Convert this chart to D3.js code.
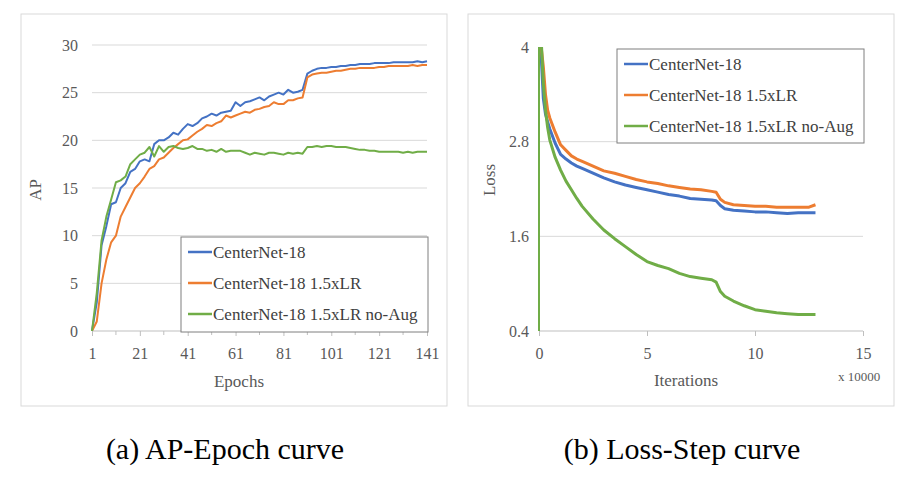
<!DOCTYPE html>
<html><head><meta charset="utf-8">
<script src="https://cdn.jsdelivr.net/npm/d3@7"></script>
<style>body{margin:0;background:#fff}svg text{font-family:'Liberation Serif','Tinos','DejaVu Serif',serif !important}</style>
</head><body><svg id="c" width="916" height="488" font-family="Liberation Serif, DejaVu Serif, serif"></svg>
<script>
const seriesNames=["CenterNet-18","CenterNet-18 1.5xLR","CenterNet-18 1.5xLR no-Aug"];
const colors=["#4472C4","#ED7D31","#70AD47"];
const epochs=d3.range(1,142,2);
const apBlue=[0,3,9,11,13.3,13.5,15,15.5,16.7,17,17.8,18,17.8,19.6,20,20,20.3,20.8,20.6,21.2,21.7,21.5,21.8,22.3,22.5,22.8,22.6,22.9,23,23.1,24,23.6,24,24.1,24.3,24.5,24.2,24.6,24.8,25,24.8,25.3,25,25.1,25.3,27,27.3,27.5,27.6,27.6,27.7,27.7,27.8,27.8,27.9,27.9,28,28,28,28.1,28.1,28.1,28.1,28.2,28.2,28.2,28.2,28.2,28.3,28.2,28.3];
const apOrange=[0,1,5,7.5,9.3,10,12,13,14,15,15.5,16.2,17,17.3,18,18.2,18.7,19.2,19.6,20,20.1,20.5,20.9,21.2,21.6,21.5,21.8,22,22.6,22.4,22.6,22.8,23,22.9,23.2,23.3,23.5,23.6,24,23.8,23.8,24.2,24.2,24.4,24.5,26.6,26.9,27,27.1,27.1,27.2,27.3,27.3,27.4,27.5,27.5,27.6,27.6,27.6,27.6,27.7,27.7,27.8,27.8,27.8,27.8,27.8,27.9,27.8,27.9,27.9];
const apGreen=[0,4,9.5,12,13.8,15.6,15.8,16.2,17.5,18,18.5,18.7,19.3,18.3,19.4,18.8,19.3,19.4,19.2,19.1,19.2,19.4,19.1,19.1,18.9,19,18.8,19.1,18.8,18.9,18.9,18.9,18.7,18.5,18.7,18.6,18.5,18.7,18.7,18.6,18.5,18.7,18.6,18.7,18.6,19.3,19.3,19.4,19.3,19.4,19.4,19.3,19.3,19.3,19.2,19.1,19,19,18.9,18.9,18.8,18.8,18.8,18.8,18.8,18.7,18.8,18.7,18.8,18.8,18.8];
const apTicks=[0,5,10,15,20,25,30];
const epochTicks=[1,21,41,61,81,101,121,141];
const iters=[0.05,0.1,0.2,0.3,0.4,0.5,0.75,1,1.25,1.5,1.75,2,2.5,3,3.5,4,4.5,5,5.5,6,6.5,7,7.5,8,8.2,8.4,8.6,9,9.5,10,10.5,11,11.5,12,12.5,12.8];
const lossBlue=[4.3,3.9,3.35,3.15,3.05,2.96,2.78,2.64,2.58,2.53,2.49,2.46,2.40,2.34,2.29,2.25,2.22,2.19,2.16,2.13,2.11,2.08,2.07,2.06,2.05,1.99,1.95,1.93,1.92,1.91,1.91,1.90,1.89,1.90,1.90,1.90];
const lossOrange=[4.4,4.0,3.75,3.4,3.2,3.1,2.92,2.76,2.69,2.62,2.58,2.55,2.49,2.43,2.40,2.36,2.32,2.29,2.27,2.24,2.22,2.20,2.19,2.17,2.16,2.07,2.03,2.00,1.99,1.98,1.98,1.97,1.97,1.97,1.97,2.0];
const lossGreen=[4.4,4.1,3.54,3.2,2.98,2.82,2.6,2.44,2.3,2.19,2.08,1.98,1.82,1.68,1.57,1.47,1.37,1.28,1.23,1.19,1.13,1.09,1.07,1.05,1.02,0.9,0.84,0.78,0.72,0.67,0.65,0.63,0.62,0.61,0.61,0.61];
const lossTicks=[0.4,1.6,2.8,4];
const iterTicks=[0,5,10,15];
const FF="Liberation Serif, DejaVu Serif, serif";

const svg=d3.select("#c");
function panel(x0,w){svg.append("rect").attr("x",x0).attr("y",14).attr("width",w).attr("height",392).attr("fill","#fff").attr("stroke","#d9d9d9");}
panel(21,426);panel(468,426);

function lineChart(o){
  const g=svg.append("g");
  const x=d3.scaleLinear().domain(o.xd).range(o.xr);
  const y=d3.scaleLinear().domain(o.yd).range(o.yr);
  o.yt.forEach(t=>{ if(o.grid(t)) g.append("line").attr("x1",o.xr[0]).attr("x2",o.gridEnd).attr("y1",y(t)).attr("y2",y(t)).attr("stroke","#d9d9d9");});
  const ya=d3.axisLeft(y).tickValues(o.yt).tickSize(0).tickPadding(o.ypad).tickFormat(o.yf);
  g.append("g").attr("transform",`translate(${o.xr[0]},0)`).call(ya).attr("font-family",FF).attr("font-size",16).call(s=>s.select(".domain").remove())
   .selectAll("text").attr("fill","#595959");
  const xa=d3.axisBottom(x).tickValues(o.xt).tickSize(o.tick).tickPadding(12);
  g.append("g").attr("transform",`translate(0,${o.yr[0]})`).call(xa).attr("font-family",FF).attr("font-size",16)
   .call(s=>{s.select(".domain").attr("stroke","#bfbfbf").attr("d",`M${o.xr[0]},0H${o.gridEnd}`);s.selectAll("line").attr("stroke","#bfbfbf");})
   .selectAll("text").attr("fill","#595959");
  if(o.minor) o.minor.forEach(t=>g.append("line").attr("x1",x(t)).attr("x2",x(t)).attr("y1",o.yr[0]).attr("y2",o.yr[0]+4).attr("stroke","#bfbfbf"));
  const clip="cl"+o.id;
  svg.append("clipPath").attr("id",clip).append("rect").attr("x",o.xr[0]-1).attr("y",o.yr[1]).attr("width",o.gridEnd-o.xr[0]+2).attr("height",o.yr[0]-o.yr[1]);
  const ln=d3.line().x(d=>x(d[0])).y(d=>y(d[1]));
  o.series.forEach((s,i)=>g.append("path").attr("clip-path",`url(#${clip})`).attr("d",ln(o.xs[i].map((v,j)=>[v,s[j]]))).attr("fill","none").attr("stroke",colors[i]).attr("stroke-width",o.sw).attr("stroke-linejoin","round"));
  const L=o.leg;
  g.append("rect").attr("x",L[0]).attr("y",L[1]).attr("width",L[2]).attr("height",L[3]).attr("fill","#fff").attr("stroke","#7f7f7f").attr("stroke-width",1);
  seriesNames.forEach((n,i)=>{const yy=L[1]+15+i*31;
    g.append("line").attr("x1",L[0]+7).attr("x2",L[0]+31).attr("y1",yy).attr("y2",yy).attr("stroke",colors[i]).attr("stroke-width",2.5);
    g.append("text").attr("x",L[0]+32).attr("y",yy+6).attr("font-family",FF).attr("font-size",17).attr("fill","#404040").text(n);});
  g.append("text").attr("transform",`translate(${o.ylab[0]},${o.ylab[1]}) rotate(-90)`).attr("text-anchor","middle").attr("font-family",FF).attr("font-size",17).attr("fill","#595959").text(o.ylab[2]);
  g.append("text").attr("x",o.xlab[0]).attr("y",o.xlab[1]).attr("text-anchor","middle").attr("font-family",FF).attr("font-size",17).attr("fill","#595959").text(o.xlab[2]);
  return {x,y};
}
lineChart({id:"a",xd:[1,141],xr:[92,427],yd:[0,30],yr:[331,45],gridEnd:427,yt:apTicks,yf:d=>d,ypad:14,grid:t=>t>0,
  xt:epochTicks,tick:5,minor:d3.range(11,141,20),xs:[epochs,epochs,epochs],series:[apBlue,apOrange,apGreen],sw:2,
  leg:[181,237,247,95],ylab:[41,190,"AP"],xlab:[239,387,"Epochs"]});
const r=lineChart({id:"b",xd:[0,15],xr:[539,863],yd:[0.4,4],yr:[331,47],gridEnd:863,yt:lossTicks,yf:d3.format(".1~f"),ypad:10,grid:t=>t>0.4&&t<4,
  xt:iterTicks,tick:5,xs:[iters,iters,iters],series:[lossBlue,lossOrange,lossGreen],sw:3,
  leg:[617,49,247,94],ylab:[495,180,"Loss"],xlab:[686,386,"Iterations"]});
svg.append("line").attr("x1",r.x(0)).attr("x2",r.x(0)).attr("y1",r.y(0.4)).attr("y2",r.y(4)).attr("stroke",colors[2]).attr("stroke-width",2);
svg.append("text").attr("x",838).attr("y",381).attr("font-family",FF).attr("font-size",13).attr("fill","#595959").text("x 10000");
svg.append("text").attr("x",225).attr("y",459).attr("text-anchor","middle").attr("font-family",FF).attr("font-size",30).attr("fill","#000").text("(a) AP-Epoch curve");
svg.append("text").attr("x",682).attr("y",459).attr("text-anchor","middle").attr("font-family",FF).attr("font-size",30).attr("fill","#000").text("(b) Loss-Step curve");
</script></body></html>
